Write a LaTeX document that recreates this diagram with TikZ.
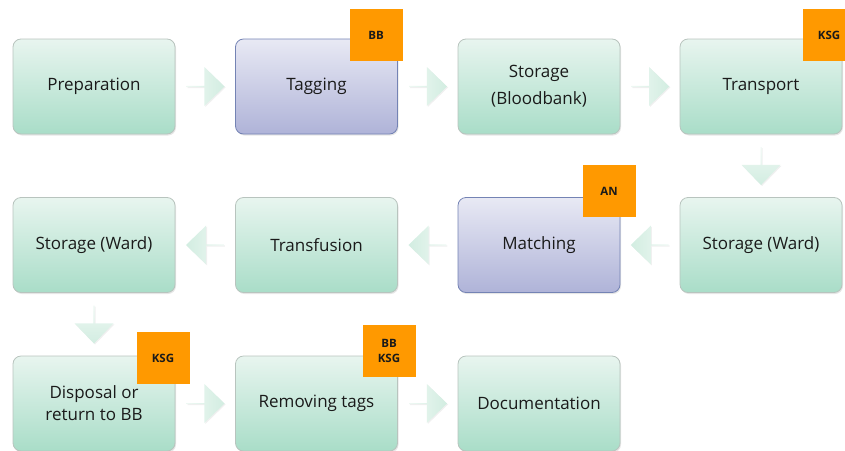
\documentclass[tikz,border=0pt]{standalone}
\usepackage{fontspec}
\setmainfont{Open Sans}
\usetikzlibrary{shapes.arrows,shadows,calc}
\definecolor{gtop}{HTML}{E8F5EF}
\definecolor{gbot}{HTML}{A9DDC8}
\definecolor{gline}{HTML}{B8C4BE}
\definecolor{ptop}{HTML}{E8E9F4}
\definecolor{pbot}{HTML}{AFB3D8}
\definecolor{pline}{HTML}{7483B4}
\definecolor{atop}{HTML}{EEF8F3}
\definecolor{abot}{HTML}{D2EDE1}
\definecolor{tagor}{HTML}{FF9900}
\definecolor{txt}{HTML}{1A1A1A}
\begin{document}
\begin{tikzpicture}[x=1pt,y=-1pt,
  box/.style={rectangle, rounded corners=8pt, minimum width=162pt, minimum height=95pt,
    top color=gtop, bottom color=gbot, draw=gline, line width=0.8pt,
    drop shadow={opacity=0.2, shadow xshift=1pt, shadow yshift=-1.5pt},
    align=center, text=txt, font=\fontsize{17}{27}\selectfont, inner sep=2pt},
  pbox/.style={box, top color=ptop, bottom color=pbot, draw=pline},
  harr/.style={single arrow, single arrow head extend=7.5pt, single arrow tip angle=88,
    minimum height=38pt, minimum width=39pt, inner sep=0pt, left color=atop, right color=abot,
    draw=none, drop shadow={opacity=0.12, shadow xshift=1pt, shadow yshift=-1pt}},
  larr/.style={harr, shape border rotate=180, left color=abot, right color=atop},
  darr/.style={harr, shape border rotate=270, top color=atop, bottom color=abot},
  tag/.style={rectangle, fill=tagor, minimum width=53pt, minimum height=52pt, inner sep=0pt,
    align=center, text=txt, font=\fontsize{11.5}{15}\selectfont\bfseries}
]
\useasboundingbox (0,0) rectangle (845,450);
% row 1
\node[box]  (prep) at (94,86.5)    {Preparation};
\node[pbox] (tag)  at (316.5,86.5) {Tagging};
\node[box]  (stbb) at (539,86.5)   {Storage\\(Bloodbank)};
\node[box]  (tran) at (761,86.5)   {Transport};
% row 2
\node[box]  (stw2) at (761,245)  {Storage (Ward)};
\node[pbox] (mat)  at (539,245)  {Matching};
\node[box]  (trf)  at (316.5,245){Transfusion};
\node[box]  (stw1) at (94,245)   {Storage (Ward)};
% row 3
\node[box, font=\fontsize{17}{22}\selectfont]  (disp) at (94,403.5)   {Disposal or\\return to BB};
\node[box]  (rem)  at (316.5,403.5){Removing tags};
\node[box]  (doc)  at (539,403.5)  {Documentation};
% arrows
\node[harr] (a1) at ($(prep.east)!0.5!(tag.west)$) {};
\node[harr] (a2) at ($(tag.east)!0.5!(stbb.west)$) {};
\node[harr] (a3) at ($(stbb.east)!0.5!(tran.west)$) {};
\node[darr] (a4) at ($(tran.south)!0.5!(stw2.north)$) {};
\node[larr] (a5) at ($(stw2.west)!0.5!(mat.east)$) {};
\node[larr] (a6) at ($(mat.west)!0.5!(trf.east)$) {};
\node[larr] (a7) at ($(trf.west)!0.5!(stw1.east)$) {};
\node[darr] (a8) at ($(stw1.south)!0.5!(disp.north)$) {};
\node[harr] (a9) at ($(disp.east)!0.5!(rem.west)$) {};
\node[harr] (a10) at ($(rem.east)!0.5!(doc.west)$) {};
% tags
\node[tag] (t1) at (376,35) {BB};
\node[tag] (t2) at (829,35) {KSG};
\node[tag] (t3) at (609,191) {AN};
\node[tag] (t4) at (163,358) {KSG};
\node[tag] (t5) at (389,351) {BB\\KSG};
\end{tikzpicture}
\end{document}
